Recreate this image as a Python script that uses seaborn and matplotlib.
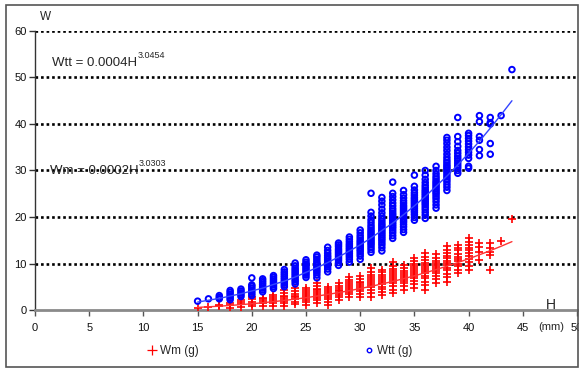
import pandas as pd
import seaborn as sns
import matplotlib.pyplot as plt
from matplotlib.lines import Line2D
from matplotlib.patches import Rectangle

# Shell height classes (mm)
heights = list(range(15, 45))

# Total weight Wtt (g) of the individuals in each height class
wtt_g = [
    [1.9],
    [2.4],
    [2.4, 2.7, 3.1],
    [2.2, 2.6, 3.0, 3.4, 3.8, 4.2],
    [2.9, 3.3, 3.7, 4.1, 4.5],
    [3.1, 3.5, 3.9, 4.3, 4.7, 5.1, 5.4, 6.9],
    [3.9, 4.3, 4.7, 5.1, 5.5, 5.9, 6.3, 6.7],
    [4.6, 5.0, 5.4, 5.8, 6.2, 6.6, 7.0, 7.4],
    [5.0, 5.4, 5.8, 6.2, 6.6, 7.0, 7.4, 7.8, 8.2, 8.7],
    [5.6, 6.1, 6.5, 7.0, 7.4, 7.8, 8.2, 8.6, 9.0, 9.5, 10.1],
    [7.0, 7.5, 7.9, 8.3, 8.7, 9.1, 9.5, 9.9, 10.3, 10.8],
    [6.9, 7.5, 8.0, 8.4, 8.8, 9.2, 9.6, 10.0, 10.4, 10.9, 11.4, 11.8],
    [8.2, 8.8, 9.3, 9.7, 10.1, 10.5, 10.9, 11.3, 11.7, 12.2, 12.8, 13.5],
    [9.6, 10.2, 10.7, 11.1, 11.5, 11.9, 12.3, 12.7, 13.1, 13.6, 14.0, 14.4],
    [10.3, 10.9, 11.4, 11.8, 12.2, 12.6, 13.0, 13.4, 13.8, 14.2, 14.7, 15.2, 15.7],
    [10.9, 11.6, 12.1, 12.6, 13.0, 13.4, 13.8, 14.2, 14.6, 15.0, 15.5, 16.0, 16.6, 17.2],
    [12.4, 13.0, 13.5, 14.0, 14.4, 14.8, 15.2, 15.6, 16.0, 16.4, 16.8, 17.2, 17.7,
     18.2, 18.8, 19.4, 20.2, 21.0, 25.1],
    [12.7, 13.4, 14.0, 14.5, 15.0, 15.4, 15.8, 16.2, 16.6, 17.0, 17.4, 17.8, 18.2,
     18.6, 19.1, 19.6, 20.2, 20.9, 21.7, 22.6, 23.4, 24.2],
    [15.4, 16.0, 16.6, 17.1, 17.6, 18.0, 18.4, 18.8, 19.2, 19.6, 20.0, 20.4, 20.8,
     21.3, 21.8, 22.4, 23.0, 23.7, 24.4, 25.1, 27.5],
    [16.7, 17.3, 17.9, 18.4, 18.9, 19.3, 19.7, 20.1, 20.5, 20.9, 21.3, 21.7, 22.1,
     22.5, 23.0, 23.5, 24.1, 24.8, 25.7],
    [19.3, 19.9, 20.5, 21.0, 21.4, 21.8, 22.2, 22.6, 23.0, 23.4, 23.8, 24.2, 24.7,
     25.2, 25.8, 26.6, 29.0],
    [19.7, 20.4, 21.0, 21.6, 22.1, 22.6, 23.0, 23.4, 23.8, 24.2, 24.6, 25.0, 25.4,
     25.8, 26.3, 26.8, 27.4, 28.1, 29.0, 30.0],
    [21.9, 22.6, 23.3, 23.9, 24.4, 24.9, 25.3, 25.7, 26.1, 26.5, 26.9, 27.3, 27.7,
     28.2, 28.7, 29.3, 30.0, 30.9],
    [25.7, 26.4, 27.0, 27.6, 28.1, 28.6, 29.1, 29.6, 30.0, 30.4, 30.8, 31.2, 31.7,
     32.2, 32.8, 33.5, 34.3, 35.0, 35.8, 36.5, 37.1],
    [29.4, 30.0, 30.6, 31.1, 31.6, 32.1, 32.6, 33.1, 33.7, 34.3, 35.2, 36.2, 37.3, 41.4],
    [30.5, 30.9, 32.6, 33.3, 33.9, 34.5, 35.1, 35.7, 36.3, 36.9, 37.5, 38.0],
    [33.2, 34.5, 36.5, 37.3, 40.5, 41.8],
    [33.5, 35.8, 40.0, 40.3, 41.4],
    [41.8],
    [51.7],
]

# Meat weight Wm (g) of the same height classes
wm_g = [
    [0.4],
    [0.6],
    [0.8, 1.1],
    [0.5, 1.0, 1.5],
    [0.7, 1.2, 1.7, 2.1],
    [0.8, 1.3, 1.8, 2.3, 2.8],
    [0.9, 1.4, 1.9, 2.4, 2.6],
    [0.9, 1.4, 1.9, 2.3, 2.7, 3.2],
    [0.9, 1.4, 1.9, 2.3, 2.7, 3.1, 3.6, 4.3],
    [1.3, 1.8, 2.3, 2.7, 3.1, 3.5, 4.0, 4.7],
    [1.1, 1.7, 2.2, 2.6, 3.0, 3.4, 3.8, 4.2, 4.7],
    [1.5, 2.1, 2.6, 3.0, 3.4, 3.8, 4.2, 4.6, 5.1, 5.8],
    [1.1, 1.8, 2.4, 2.9, 3.3, 3.7, 4.1, 4.5, 4.9],
    [2.1, 2.7, 3.2, 3.6, 4.0, 4.4, 4.8, 5.2, 5.8],
    [2.8, 3.4, 3.9, 4.3, 4.7, 5.1, 5.5, 6.0, 6.5, 7.1],
    [2.8, 3.5, 4.0, 4.5, 4.9, 5.3, 5.7, 6.1, 6.6, 7.3],
    [2.8, 3.6, 4.3, 4.9, 5.4, 5.8, 6.2, 6.6, 7.0, 7.5, 8.2, 9.0],
    [3.2, 3.9, 4.5, 5.0, 5.5, 5.9, 6.3, 6.7, 7.1, 7.6, 8.1, 8.6],
    [3.6, 4.4, 5.1, 5.7, 6.2, 6.7, 7.1, 7.5, 7.9, 8.4, 8.9, 9.5, 10.3],
    [4.3, 5.1, 5.7, 6.2, 6.7, 7.1, 7.5, 7.9, 8.4, 9.0, 9.7],
    [4.7, 5.5, 6.2, 6.8, 7.3, 7.8, 8.2, 8.6, 9.0, 9.5, 10.0, 10.6, 11.2],
    [4.3, 5.3, 6.1, 6.8, 7.4, 7.9, 8.4, 8.8, 9.2, 9.7, 10.2, 10.8, 11.5, 12.2],
    [5.8, 6.6, 7.3, 7.9, 8.4, 8.9, 9.3, 9.7, 10.1, 10.6, 11.2, 12.0],
    [6.0, 7.0, 7.8, 8.5, 9.1, 9.6, 10.1, 10.6, 11.1, 11.7, 12.3, 13.0, 13.7],
    [7.9, 8.7, 9.4, 10.0, 10.5, 11.0, 11.5, 12.1, 12.8, 13.4, 14.0],
    [8.6, 9.5, 10.3, 11.0, 11.6, 12.2, 12.8, 13.4, 14.0, 14.7, 15.5],
    [10.7, 12.4, 13.6, 14.4],
    [8.6, 11.8, 12.4, 13.3, 14.4],
    [14.8],
    [19.5],
]

# Power-law trend lines evaluated at each height class
wtt_fit = [1.7, 2.1, 2.5, 3.0, 3.5, 4.1, 4.7, 5.5, 6.2, 7.1,
           8.1, 9.1, 10.2, 11.4, 12.7, 14.0, 15.5, 17.1, 18.7, 20.5,
           22.4, 24.4, 26.6, 28.8, 31.2, 33.7, 36.3, 39.1, 42.0, 45.0]
wm_fit = [0.56, 0.69, 0.82, 0.98, 1.15, 1.35, 1.56, 1.80, 2.06, 2.34,
          2.65, 2.99, 3.35, 3.74, 4.16, 4.61, 5.09, 5.60, 6.15, 6.73,
          7.35, 8.00, 8.69, 9.43, 10.20, 11.01, 11.87, 12.77, 13.71, 14.70]

x_ticks = [0, 5, 10, 15, 20, 25, 30, 35, 40, 45, 50]
y_ticks = [0, 10, 20, 30, 40, 50, 60]

# Long-form tables for seaborn
wtt_df = pd.DataFrame([(h, w) for h, col in zip(heights, wtt_g) for w in col],
                      columns=["H", "W"])
wm_df = pd.DataFrame([(h, w) for h, col in zip(heights, wm_g) for w in col],
                     columns=["H", "W"])
fit_df = pd.DataFrame({"H": heights, "Wtt": wtt_fit, "Wm": wm_fit})

sns.set_theme(style="white")
plt.rcParams["font.family"] = ["Liberation Sans", "DejaVu Sans"]

fig = plt.figure(figsize=(5.79, 3.68), dpi=100)
ax = fig.add_axes([0.0605, 0.1576, 0.9360, 0.7582])

# Dotted horizontal guides
for yv in y_ticks[1:]:
    ax.axhline(yv, color="black", linestyle=(0, (1, 1.1)), linewidth=1.9, zorder=1)

sns.scatterplot(data=wm_df, x="H", y="W", marker="+", s=34, color="#ff0000",
                linewidth=1.2, ax=ax, zorder=3, legend=False)
sns.scatterplot(data=wtt_df, x="H", y="W", marker="o", s=16, facecolor="none",
                edgecolor="#0000ff", linewidth=1.4, ax=ax, zorder=3, legend=False)

sns.lineplot(data=fit_df, x="H", y="Wtt", color="#3344ff", linewidth=1.0, ax=ax, zorder=4)
sns.lineplot(data=fit_df, x="H", y="Wm", color="#ff3333", linewidth=1.0, ax=ax, zorder=4)

ax.set_xlim(0, 50)
ax.set_ylim(0, 60)
ax.set_xticks(x_ticks)
ax.set_yticks(y_ticks)
ax.set_xlabel("")
ax.set_ylabel("")

for side in ("top", "right"):
    ax.spines[side].set_visible(False)
ax.spines["left"].set_color("#333333")
ax.spines["left"].set_linewidth(1.0)
ax.spines["bottom"].set_color("#8a8a8a")
ax.spines["bottom"].set_linewidth(2.0)
ax.tick_params(axis="x", direction="out", length=4, width=1, color="#555555",
               labelsize=8, pad=5, labelcolor="#111111", bottom=True)
ax.tick_params(axis="y", direction="out", length=4, width=1, color="#333333",
               labelsize=8, pad=2, labelcolor="#111111", left=True)

# Axis names
fig.text(40 / 579, 1 - 17 / 368, "W", fontsize=8.5, ha="left", va="center")
fig.text(551 / 579, 1 - 305 / 368, "H", fontsize=10, ha="center", va="center")
fig.text(551 / 579, 1 - 327 / 368, "(mm)", fontsize=8, ha="center", va="center")

# Regression equations
eq1 = ax.text(1.6, 52.5, "Wtt = 0.0004H", fontsize=9.5, ha="left", va="baseline",
              zorder=5)
ax.annotate("3.0454", xy=(1, 0.75), xycoords=eq1, fontsize=6.5,
            ha="left", va="bottom")
eq2 = ax.text(1.4, 29.3, "Wm = 0.0002H", fontsize=9.5, ha="left", va="baseline",
              zorder=5)
ax.annotate("3.0303", xy=(1, 0.75), xycoords=eq2, fontsize=6.5,
            ha="left", va="bottom")

handles = [
    Line2D([], [], linestyle="none", marker="+", color="#ff0000",
           markersize=7, markeredgewidth=0.9),
    Line2D([], [], linestyle="none", marker="o", markerfacecolor="none",
           markeredgecolor="#0000ff", markersize=3.2, markeredgewidth=1.0),
]
fig.legend(handles, ["Wm (g)", "Wtt (g)"], ncol=2, frameon=False, fontsize=8.5,
           loc="center", bbox_to_anchor=(0.483, 1 - 351 / 368),
           columnspacing=14.0, handlelength=0.8, handletextpad=0.3)

# Outer chart border
fig.patches.append(Rectangle((6 / 579, 1 / 368), 572 / 579, 362 / 368,
                             transform=fig.transFigure, fill=False,
                             edgecolor="#555555", linewidth=1.2))

fig.savefig("out.png", dpi=100)
